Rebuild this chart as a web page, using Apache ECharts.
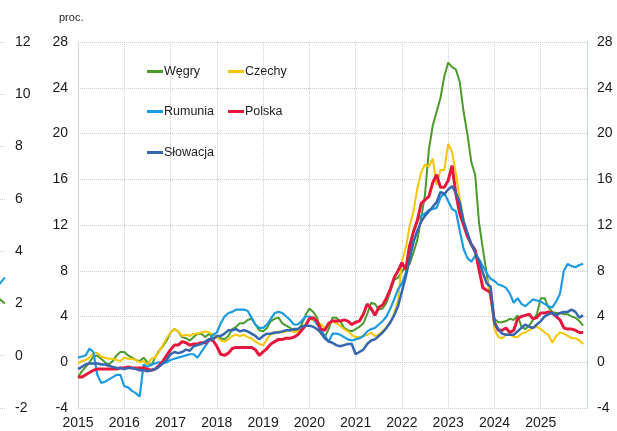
<!DOCTYPE html>
<html>
<head>
<meta charset="utf-8">
<script src="https://cdn.jsdelivr.net/npm/echarts@6.0.0/dist/echarts.min.js"></script>
<style>
  html, body { margin: 0; padding: 0; background: #fff; }
  #chart { width: 617px; height: 431px; }
</style>
</head>
<body>
<div id="chart"></div>
<script>
  // dane miesięczne: styczeń 2015 - grudzień 2025 (proc. r/r)
  const startYear = 2015
  const endYear = 2026
  const yTicks = { min: -4, max: 28, interval: 4 }

  const wegry = [
    -1.3, -0.8, -0.4, 0.0, 0.5, 0.6, 0.3, 0.0, -0.2, 0.1, 0.6, 0.9,
    0.9, 0.6, 0.4, 0.2, 0.1, 0.4, 0.0, -0.3, 0.4, 1.0, 1.4, 1.9,
    2.6, 2.9, 2.7, 2.2, 2.1, 1.9, 2.2, 2.5, 2.5, 2.2, 2.5, 2.1,
    2.2, 2.1, 2.0, 2.3, 2.9, 3.1, 3.4, 3.4, 3.7, 3.8, 3.3, 2.8,
    2.7, 3.0, 3.6, 3.8, 3.9, 3.4, 3.2, 3.0, 2.8, 2.8, 3.3, 4.1,
    4.7, 4.4, 3.9, 2.5, 2.2, 2.9, 3.9, 3.9, 3.6, 3.0, 2.8, 2.7,
    2.9, 3.1, 3.4, 4.2, 5.2, 5.1, 4.6, 4.7, 5.2, 6.2, 7.2, 7.4,
    7.9, 8.4, 8.6, 9.6, 10.7, 12.6, 14.7, 18.6, 20.7, 21.9, 23.1, 25.0,
    26.2, 25.8, 25.6, 24.5, 21.9, 19.9, 17.5, 16.4, 12.2, 9.9, 7.7, 5.5,
    3.8, 3.5, 3.5, 3.6, 3.8, 3.7, 4.1, 3.1, 2.9, 3.2, 3.7, 4.2,
    5.6, 5.6, 4.8, 4.4, 4.3, 4.3, 4.2, 4.2, 4.0, 3.9, 3.6, 3.2
  ]
  const czechy = [
    -0.1, 0.1, 0.2, 0.4, 0.8, 0.8, 0.5, 0.4, 0.3, 0.3, 0.2, 0.1,
    0.4, 0.3, 0.3, 0.2, 0.0, 0.1, -0.2, 0.3, 0.4, 0.9, 1.5, 2.1,
    2.6, 2.9, 2.7, 2.3, 2.4, 2.3, 2.5, 2.5, 2.6, 2.7, 2.6, 2.4,
    2.2, 1.9, 1.8, 2.0, 2.3, 2.4, 2.3, 2.4, 2.2, 2.1, 1.8, 1.6,
    1.5, 2.0, 2.5, 2.5, 2.7, 2.6, 2.7, 2.8, 2.6, 2.7, 3.1, 3.3,
    3.8, 3.7, 3.6, 3.3, 3.0, 3.3, 3.6, 3.4, 3.2, 2.9, 2.7, 2.4,
    2.2, 2.2, 2.3, 2.4, 2.6, 2.3, 2.4, 2.7, 3.1, 3.4, 4.3, 5.4,
    8.8, 10.0, 11.9, 13.2, 15.2, 16.6, 17.3, 17.1, 17.8, 15.5, 16.8, 16.8,
    19.1, 18.4, 16.5, 14.3, 12.5, 11.2, 10.2, 9.6, 8.4, 7.7, 7.2, 6.0,
    2.9, 2.2, 2.1, 2.4, 2.5, 2.2, 2.2, 2.5, 2.6, 2.8, 3.0, 3.1,
    2.9, 2.6, 2.4, 1.7, 2.3, 2.6, 2.5, 2.3, 2.1, 2.1, 1.9, 1.6
  ]
  const rumunia = [
    0.4, 0.5, 0.6, 1.2, 0.9, -1.1, -1.8, -1.7, -1.5, -1.3, -1.1, -1.1,
    -2.1, -2.2, -2.5, -2.7, -3.0, -0.2, -0.4, -0.2, -0.1, 0.0, -0.1, 0.0,
    0.2, 0.3, 0.4, 0.5, 0.6, 0.7, 0.7, 0.4, 0.9, 1.4, 1.9, 2.4,
    2.6, 3.4, 4.0, 4.3, 4.4, 4.6, 4.6, 4.6, 4.5, 3.9, 3.3, 3.0,
    3.0, 3.3, 3.8, 4.3, 4.4, 4.3, 4.0, 3.7, 3.3, 3.3, 3.6, 4.0,
    4.0, 3.8, 3.3, 2.8, 2.3, 1.8, 2.5, 2.5, 2.4, 2.2, 2.0, 1.9,
    2.0, 2.1, 2.3, 2.7, 2.9, 3.0, 3.3, 3.6, 4.0, 4.7, 5.5, 6.4,
    6.9, 7.8, 9.6, 11.5, 12.4, 12.8, 13.0, 13.3, 13.4, 13.5, 14.4, 14.8,
    14.1, 13.4, 13.2, 11.5, 9.9, 9.1, 8.8, 9.3, 9.0, 8.4, 7.8, 7.3,
    7.1, 6.8, 6.7, 6.5, 6.0, 5.2, 5.6, 5.1, 4.9, 5.2, 5.5, 5.4,
    5.3, 5.1, 4.9, 4.8, 5.3, 6.0, 8.0, 8.6, 8.4, 8.3, 8.5, 8.6
  ]
  const polska = [
    -1.3, -1.3, -1.1, -0.9, -0.7, -0.6, -0.6, -0.6, -0.6, -0.6, -0.6, -0.5,
    -0.5, -0.4, -0.5, -0.5, -0.5, -0.5, -0.6, -0.7, -0.6, -0.3, 0.1, 0.6,
    1.1, 1.5, 1.5, 1.8, 1.7, 1.5, 1.6, 1.6, 1.7, 1.7, 2.0, 1.9,
    1.4, 0.7, 0.6, 0.8, 1.2, 1.3, 1.3, 1.3, 1.3, 1.3, 1.1, 0.6,
    0.9, 1.2, 1.6, 1.8, 2.0, 2.0, 2.1, 2.1, 2.2, 2.4, 2.8, 3.2,
    3.8, 3.9, 3.6, 2.9, 2.8, 3.4, 3.6, 3.6, 3.6, 3.7, 3.6, 3.3,
    3.5, 3.6, 4.2, 5.1, 4.7, 4.1, 4.8, 5.0, 5.6, 6.4, 7.4, 8.0,
    8.7, 8.1, 10.2, 11.4, 12.4, 13.9, 14.2, 14.5, 15.7, 16.4, 15.3, 15.3,
    15.9, 17.2, 14.7, 13.0, 12.0, 11.0, 10.3, 9.8, 8.1, 6.5, 6.3, 6.1,
    3.5, 2.8, 2.8, 3.0, 2.6, 2.8, 3.8, 4.0, 4.1, 4.2, 3.8, 3.9,
    4.3, 4.3, 4.4, 4.3, 4.0, 3.7, 3.0, 2.9, 2.9, 2.8, 2.6, 2.6
  ]
  const slowacja = [
    -0.6, -0.4, -0.2, -0.1, -0.1, -0.1, -0.2, -0.2, -0.3, -0.4, -0.5, -0.5,
    -0.6, -0.5, -0.5, -0.6, -0.7, -0.7, -0.8, -0.7, -0.6, -0.4, -0.1, 0.2,
    0.7, 0.9, 0.8, 0.9, 1.1, 1.0, 1.4, 1.5, 1.6, 1.8, 2.0, 2.0,
    2.3, 2.3, 2.5, 2.8, 2.8, 2.9, 2.7, 2.8, 2.7, 2.5, 2.3, 2.0,
    2.3, 2.5, 2.5, 2.6, 2.6, 2.7, 2.8, 2.8, 2.9, 2.9, 3.1, 3.2,
    3.2, 3.1, 2.9, 2.6, 2.1, 1.8, 1.7, 1.5, 1.4, 1.5, 1.6, 1.6,
    0.7, 0.9, 1.1, 1.6, 1.9, 2.0, 2.3, 2.6, 3.0, 3.5, 4.1, 4.9,
    6.2, 7.5, 9.0, 10.5, 11.5, 12.3, 12.8, 13.2, 13.6, 14.0, 14.9, 14.7,
    15.1, 15.4, 14.8, 14.0, 12.3, 11.3, 10.3, 9.6, 8.9, 7.8, 6.9, 6.6,
    3.4, 2.9, 2.5, 2.4, 2.4, 2.4, 2.7, 3.0, 3.3, 3.1, 3.0, 3.3,
    3.6, 4.0, 4.2, 4.3, 4.1, 4.3, 4.4, 4.4, 4.6, 4.4, 3.9, 4.1
  ]

  // ucięty fragment sąsiedniego wykresu po lewej stronie
  const stubTicks = { min: -2, max: 12, interval: 2 }
  const stubNiebieska = [2.6, 2.7, 3.0]
  const stubZielona = [2.3, 2.2, 2.0]

  const chart = echarts.init(document.getElementById('chart'))

  const font = 'Liberation Sans, Arial, sans-serif'
  const gridLine = { color: '#c6ced8', type: 'dotted', width: 1 }
  const toPairs = (arr) => arr.map((v, i) => [startYear + i / 12, v])
  const toStub = (arr) => arr.map((v, i) => [8 + i, v])

  const seriesDef = [
    { name: 'Węgry', data: wegry, color: '#4a9a2c', width: 2 },
    { name: 'Czechy', data: czechy, color: '#f7c600', width: 2 },
    { name: 'Rumunia', data: rumunia, color: '#1d9be2', width: 2.2 },
    { name: 'Polska', data: polska, color: '#e6173d', width: 3 },
    { name: 'Słowacja', data: slowacja, color: '#3566b0', width: 2.5 }
  ]
  const legendPos = [[147, 65], [228, 65], [147, 105], [228, 105], [147, 146]]

  const option = {
    animation: false,
    graphic: [{
      type: 'text', left: 59, top: 12,
      style: { text: 'proc.', fontSize: 11, fill: '#222', fontFamily: font }
    }],
    legend: seriesDef.map((s, i) => ({
      data: [s.name],
      left: legendPos[i][0],
      top: legendPos[i][1],
      padding: 0,
      icon: 'rect',
      itemWidth: 16,
      itemHeight: 3,
      selectedMode: false,
      textStyle: { fontSize: 12.5, color: '#222', fontFamily: font, padding: [0, 0, 0, -4] }
    })),
    grid: [
      { left: 78, right: 30, top: 42, bottom: 23, outerBoundsMode: 'none' },
      { left: -60, width: 65, top: 42, bottom: 23, outerBoundsMode: 'none' }
    ],
    xAxis: [
      {
        type: 'value', gridIndex: 0, min: startYear, max: endYear, interval: 1,
        axisLine: { show: false }, axisTick: { show: false },
        splitLine: { show: true, lineStyle: gridLine },
        axisLabel: {
          fontSize: 14, color: '#1a1a1a', fontFamily: font, margin: 8,
          formatter: (v) => (v === endYear ? '' : String(v))
        }
      },
      {
        type: 'value', gridIndex: 1, min: 0, max: 10,
        axisLine: { show: false }, axisTick: { show: false },
        axisLabel: { show: false }, splitLine: { show: false }
      }
    ],
    yAxis: [
      {
        type: 'value', gridIndex: 0, position: 'left', ...yTicks,
        axisLine: { show: true, lineStyle: { color: '#f0cdd3', width: 1 } },
        axisTick: { show: false },
        splitLine: { show: true, lineStyle: gridLine },
        axisLabel: { fontSize: 14, color: '#1a1a1a', fontFamily: font, margin: 10 }
      },
      {
        type: 'value', gridIndex: 0, position: 'right', ...yTicks,
        axisLine: { show: true, lineStyle: { color: '#bcdaf0', width: 1 } },
        axisTick: { show: false },
        splitLine: { show: false },
        axisLabel: { fontSize: 14, color: '#1a1a1a', fontFamily: font, margin: 10 }
      },
      {
        type: 'value', gridIndex: 1, position: 'right', ...stubTicks,
        axisLine: { show: true, lineStyle: { color: '#f0cdd3', type: 'dotted' } },
        axisTick: { show: false },
        splitLine: { show: true, lineStyle: gridLine },
        axisLabel: { fontSize: 14, color: '#1a1a1a', fontFamily: font, margin: 10 }
      }
    ],
    series: [
      ...seriesDef.map((s) => ({
        name: s.name,
        type: 'line',
        xAxisIndex: 0,
        yAxisIndex: 0,
        data: toPairs(s.data),
        symbol: 'none',
        color: s.color,
        lineStyle: { width: s.width, color: s.color },
        emphasis: { disabled: true }
      })),
      {
        type: 'line', xAxisIndex: 1, yAxisIndex: 2, data: toStub(stubNiebieska),
        symbol: 'none', lineStyle: { width: 2, color: '#1d9be2' }, silent: true
      },
      {
        type: 'line', xAxisIndex: 1, yAxisIndex: 2, data: toStub(stubZielona),
        symbol: 'none', lineStyle: { width: 2, color: '#4a9a2c' }, silent: true
      }
    ]
  }
  option && chart.setOption(option)
</script>
</body>
</html>
